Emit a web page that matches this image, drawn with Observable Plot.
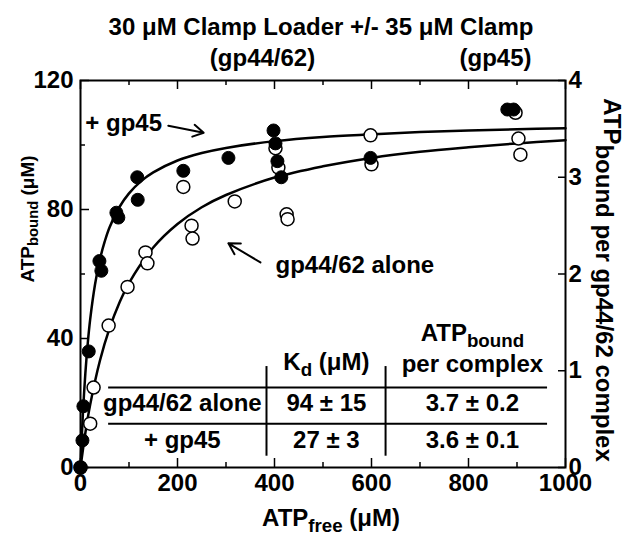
<!DOCTYPE html>
<html>
<head>
<meta charset="utf-8">
<script src="https://cdn.jsdelivr.net/npm/d3@7"></script>
<script src="https://cdn.jsdelivr.net/npm/@observablehq/plot@0.6"></script>
<style>
  html, body { margin: 0; padding: 0; background: #fff; }
  #chart { width: 624px; height: 534px; }
</style>
</head>
<body>
<div id="chart"></div>
<script>
// ---- data ----
// + gp45 (filled circles)
const withClampX = [0, 4, 6, 17, 39, 43, 74, 78, 117, 118, 212, 305, 398, 402, 406, 414, 598, 880, 893];
const withClampY = [0, 8.4, 19, 36, 64, 61, 79, 77.5, 90, 83, 92, 96, 104.5, 100.5, 95, 90, 96, 111, 111];
// gp44/62 alone (open circles)
const aloneX = [0, 20, 27, 58, 97, 134, 138, 212, 229, 231, 318, 402, 408, 425, 427, 598, 600, 897, 903, 907];
const aloneY = [0, 13.6, 24.8, 44, 56, 66.7, 63.3, 87, 75, 71, 82.5, 99, 93, 78.5, 77, 103, 94, 110, 102, 97];
// fitted curves
const fitClampX = [0, 2, 5, 10, 15, 20, 30, 40, 50, 60, 80, 100, 125, 150, 200, 250, 300, 400, 500, 600, 700, 800, 900, 1000];
const fitClampY = [0, 7.4, 16.9, 29.2, 38.6, 46.0, 56.8, 64.5, 70.1, 74.5, 80.7, 85.0, 88.8, 91.5, 95.2, 97.5, 99.1, 101.2, 102.5, 103.3, 104.0, 104.5, 104.9, 105.2];
const fitAloneX = [0, 10, 20, 40, 60, 80, 100, 150, 200, 250, 300, 400, 500, 600, 700, 800, 900, 1000];
const fitAloneY = [0, 10.7, 19.5, 33.1, 43.2, 51.0, 57.2, 68.2, 75.5, 80.7, 84.5, 89.9, 93.4, 96.0, 97.9, 99.3, 100.5, 101.5];
// axes
const xTickLabels = [0, 200, 400, 600, 800, 1000];
const xMinorTicks = [100, 300, 500, 700, 900];
const yTickLabels = [0, 40, 80, 120];
const yMinorTicks = [20, 60, 100];
const rightTickLabels = [0, 1, 2, 3, 4];
const loaderConc = 30; // µM clamp loader -> right axis = ATPbound / 30
// table
const tableRows = ["gp44/62 alone", "+ gp45"];
const tableKd = ["94 ± 15", "27 ± 3"];
const tablePer = ["3.7 ± 0.2", "3.6 ± 0.1"];

// ---- build ----
const W = 624, H = 534;
const mL = 80, mR = 59, mT = 80, mB = 67;
const fw = W - mL - mR, fh = H - mT - mB;
const font = "'Liberation Sans', Arial, Helvetica, sans-serif";
const FS = 24;

const pts = (xs, ys) => xs.map((x, i) => ({x, y: ys[i]}));

const rowY = [17.4, 5.9];
const table = [
  ...tableRows.map((t, i) => ({t, x: 210, y: rowY[i]})),
  ...tableKd.map((t, i) => ({t, x: 507, y: rowY[i]})),
  ...tablePer.map((t, i) => ({t, x: 808, y: rowY[i]})),
  {t: "K_{d} (μM)", x: 507, y: 30.1},
  {t: "ATP_{bound}", x: 808, y: 39.2},
  {t: "per complex", x: 808, y: 29.5}
];

const chart = Plot.plot({
  width: W, height: H,
  marginLeft: mL, marginRight: mR, marginTop: mT, marginBottom: mB,
  x: {domain: [0, 1000]},
  y: {domain: [0, 120]},
  style: {fontFamily: font, fontWeight: "bold", fontSize: FS + "px", color: "#000", background: "#fff"},
  marks: [
    // tick labels
    Plot.axisX(xTickLabels, {anchor: "bottom", tickSize: 0, tickPadding: 6, fontSize: FS, label: null, tickFormat: d => String(d)}),
    Plot.axisY(yTickLabels, {anchor: "left", tickSize: 0, tickPadding: 7, fontSize: FS, label: null, tickFormat: d => String(d)}),
    Plot.axisY(rightTickLabels.map(d => d * loaderConc), {anchor: "right", tickSize: 0, tickPadding: 3, fontSize: FS, label: null, tickFormat: d => String(d / loaderConc)}),
    // inward ticks
    Plot.tickX(xTickLabels, {x: d => d, insetTop: fh - 9, strokeWidth: 1.5}),
    Plot.tickX(xMinorTicks, {x: d => d, insetTop: fh - 5, strokeWidth: 1.5}),
    Plot.tickX(xTickLabels, {x: d => d, insetBottom: fh - 9, strokeWidth: 1.5}),
    Plot.tickX(xMinorTicks, {x: d => d, insetBottom: fh - 5, strokeWidth: 1.5}),
    Plot.tickY(yTickLabels, {y: d => d, insetRight: fw - 9, strokeWidth: 1.5}),
    Plot.tickY(yMinorTicks, {y: d => d, insetRight: fw - 5, strokeWidth: 1.5}),
    Plot.tickY(rightTickLabels.map(d => d * loaderConc), {y: d => d, insetLeft: fw - 7, strokeWidth: 1.5}),
    Plot.frame({stroke: "#000", strokeWidth: 2}),
    // table
    Plot.ruleY([24.8, 13.6], {x1: 58, x2: 963, y: d => d, strokeWidth: 2}),
    Plot.ruleX([383.5, 629], {x: d => d, y1: 3.5, y2: 31.3, strokeWidth: 2}),
    Plot.text(table, {x: "x", y: "y", text: "t", lineAnchor: "bottom", textAnchor: "middle", fontSize: FS}),
    // curves
    Plot.line(pts(fitClampX, fitClampY), {x: "x", y: "y", curve: "catmull-rom", strokeWidth: 2.5}),
    Plot.line(pts(fitAloneX, fitAloneY), {x: "x", y: "y", curve: "catmull-rom", strokeWidth: 2.5}),
    // points
    Plot.dot(pts(aloneX, aloneY), {x: "x", y: "y", r: 6.5, fill: "#fff", stroke: "#000", strokeWidth: 1.5}),
    Plot.dot(pts(withClampX, withClampY), {x: "x", y: "y", r: 6.5, fill: "#000", stroke: "#000", strokeWidth: 1}),
    // annotations
    Plot.text(["+ gp45"], {x: 10, y: 106.7, textAnchor: "start", lineAnchor: "middle", fontSize: FS}),
    Plot.arrow([0], {x1: 181, y1: 106, x2: 254, y2: 103.8, strokeWidth: 2, headLength: 12}),
    Plot.text(["gp44/62 alone"], {x: 402, y: 62.6, textAnchor: "start", lineAnchor: "middle", fontSize: FS}),
    Plot.arrow([0], {x1: 371, y1: 63.6, x2: 305, y2: 69.5, strokeWidth: 2, headLength: 12}),
    // titles and axis labels
    Plot.text(["30 μM Clamp Loader +/- 35 μM Clamp"], {frameAnchor: "top", textAnchor: "middle", dx: -2, dy: -46, lineAnchor: "bottom", fontSize: FS}),
    Plot.text(["(gp44/62)"], {frameAnchor: "top-left", dx: 182, dy: -15, lineAnchor: "bottom", textAnchor: "middle", fontSize: FS}),
    Plot.text(["(gp45)"], {frameAnchor: "top-left", dx: 415, dy: -15, lineAnchor: "bottom", textAnchor: "middle", fontSize: FS}),
    Plot.text(["ATP_{free} (μM)"], {frameAnchor: "bottom", textAnchor: "middle", dx: 8, dy: 58, lineAnchor: "bottom", fontSize: FS}),
    Plot.text(["ATP_{bound} (μM)"], {frameAnchor: "left", textAnchor: "middle", dx: -47, dy: -55, rotate: -90, lineAnchor: "bottom", fontSize: 19}),
    Plot.text(["ATP_[bound per gp44/62 complex]"], {frameAnchor: "right", textAnchor: "middle", dx: 38, dy: 6, rotate: 90, lineAnchor: "bottom", fontSize: FS})
  ]
});

// turn _{...} (smaller) and _[...] (same size) into subscripts
const NS = "http://www.w3.org/2000/svg";
chart.querySelectorAll("text").forEach(el => {
  if (el.children.length) return;
  const s = el.textContent;
  if (!/_[\{\[]/.test(s)) return;
  const parts = s.split(/(_\{[^}]*\}|_\[[^\]]*\])/).filter(p => p);
  el.textContent = "";
  let back = null;
  for (const p of parts) {
    const t = document.createElementNS(NS, "tspan");
    if (p.startsWith("_{")) {
      t.textContent = p.slice(2, -1);
      t.setAttribute("font-size", "78%");
      t.setAttribute("dy", "0.32em");
      back = "-0.25em";
    } else if (p.startsWith("_[")) {
      t.textContent = p.slice(2, -1);
      t.setAttribute("dy", "0.3em");
      back = "-0.3em";
    } else {
      t.textContent = p;
      if (back) { t.setAttribute("dy", back); back = null; }
    }
    el.appendChild(t);
  }
});

document.getElementById("chart").appendChild(chart);
</script>
</body>
</html>
